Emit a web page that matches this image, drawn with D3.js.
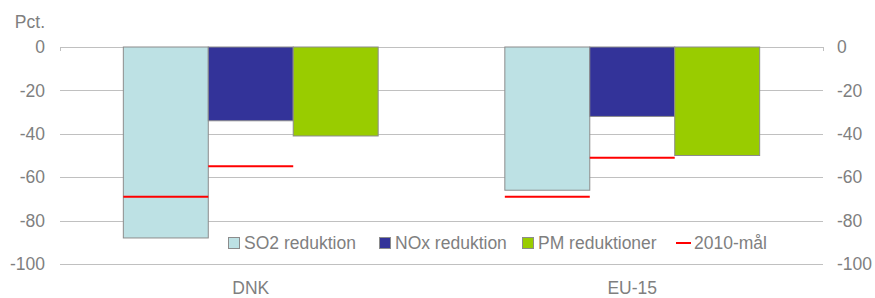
<!DOCTYPE html>
<html>
<head>
<meta charset="utf-8">
<script src="https://cdn.jsdelivr.net/npm/d3@7"></script>
<style>
  body { margin: 0; background: #fff; }
  text { font-family: "Liberation Sans", Arial, sans-serif; fill: #7f7f7f; }
</style>
</head>
<body>
<svg></svg>
<script>
// data
var categories = ['DNK', 'EU-15'];
var seriesNames = ['SO2 reduktion', 'NOx reduktion', 'PM reduktioner'];
var so2Values = [-88, -66];
var noxValues = [-34, -32];
var pmValues = [-41, -50];
var so2Target = [-69, -69];
var noxTarget = [-55, -51];
var yTicks = [0, -20, -40, -60, -80, -100];
var targetLabel = '2010-mål';

var colors = ['#bde1e4', '#333399', '#99cc00'];

var svgWidth = 875, svgHeight = 298;
var svg = d3.select('svg')
    .attr('width', svgWidth)
    .attr('height', svgHeight);

// plot area edges (note: "top" is reserved on window)
var plotLeft = 60, plotRight = 823, plotTop = 47, plotBottom = 264;

var x = d3.scaleBand()
    .domain(categories)
    .range([plotLeft, plotRight])
    .padding(0);

var groupWidth = x.bandwidth() * 0.668;
var xInner = d3.scaleBand()
    .domain(seriesNames)
    .range([0, groupWidth]);

var y = d3.scaleLinear()
    .domain([-100, 0])
    .range([plotBottom, plotTop]);

// gridlines
svg.append('g').selectAll('line')
    .data(yTicks)
    .enter().append('line')
    .attr('x1', plotLeft).attr('x2', plotRight)
    .attr('y1', d => Math.round(y(d)) + 0.5)
    .attr('y2', d => Math.round(y(d)) + 0.5)
    .attr('stroke', '#c0c0c0')
    .attr('stroke-width', 1);

// small stubs at the top corners
[plotLeft, plotRight].forEach(function(px) {
    svg.append('line')
        .attr('x1', px + 0.5).attr('x2', px + 0.5)
        .attr('y1', Math.round(y(0))).attr('y2', Math.round(y(0)) + 4)
        .attr('stroke', '#c0c0c0');
});

// left & right tick labels
svg.append('g').selectAll('text')
    .data(yTicks)
    .enter().append('text')
    .attr('x', 45)
    .attr('y', d => y(d))
    .attr('dy', '0.35em')
    .attr('text-anchor', 'end')
    .style('font-size', '17.5px')
    .text(d => d);

svg.append('g').selectAll('text')
    .data(yTicks)
    .enter().append('text')
    .attr('x', 837)
    .attr('y', d => y(d))
    .attr('dy', '0.35em')
    .attr('text-anchor', 'start')
    .style('font-size', '17.5px')
    .text(d => d);

svg.append('text')
    .attr('x', 45).attr('y', 28)
    .attr('text-anchor', 'end')
    .style('font-size', '17.5px')
    .text('Pct.');

// bars
var allValues = [so2Values, noxValues, pmValues];
var barData = [];
categories.forEach(function(c, i) {
    seriesNames.forEach(function(s, j) {
        barData.push({cat: c, series: s, value: allValues[j][i], color: colors[j]});
    });
});

var groupOffset = (x.bandwidth() - groupWidth) / 2;

svg.append('g').selectAll('rect')
    .data(barData)
    .enter().append('rect')
    .attr('x', d => x(d.cat) + groupOffset + xInner(d.series))
    .attr('y', y(0))
    .attr('width', xInner.bandwidth())
    .attr('height', d => y(d.value) - y(0))
    .attr('fill', d => d.color)
    .attr('stroke', '#8c8c8c')
    .attr('stroke-width', 1);

// 2010 targets
var targetData = [];
categories.forEach(function(c, i) {
    targetData.push({cat: c, series: seriesNames[0], value: so2Target[i]});
    targetData.push({cat: c, series: seriesNames[1], value: noxTarget[i]});
});

svg.append('g').selectAll('line')
    .data(targetData)
    .enter().append('line')
    .attr('x1', d => x(d.cat) + groupOffset + xInner(d.series))
    .attr('x2', d => x(d.cat) + groupOffset + xInner(d.series) + xInner.bandwidth())
    .attr('y1', d => y(d.value))
    .attr('y2', d => y(d.value))
    .attr('stroke', '#ff0000')
    .attr('stroke-width', 2);

// category labels
svg.append('g').selectAll('text')
    .data(categories)
    .enter().append('text')
    .attr('x', d => x(d) + x.bandwidth() / 2)
    .attr('y', 294)
    .attr('text-anchor', 'middle')
    .style('font-size', '17.5px')
    .text(d => d);

// legend
var legendY = 243;
var legendX = [228, 379, 522];
seriesNames.forEach(function(s, j) {
    svg.append('rect')
        .attr('x', legendX[j] + 0.5).attr('y', legendY - 5.5)
        .attr('width', 11).attr('height', 11)
        .attr('fill', colors[j])
        .attr('stroke', '#8c8c8c');
    svg.append('text')
        .attr('x', legendX[j] + 16).attr('y', legendY)
        .attr('dy', '0.35em')
        .style('font-size', '17.5px')
        .text(s);
});
svg.append('line')
    .attr('x1', 676).attr('x2', 691)
    .attr('y1', legendY).attr('y2', legendY)
    .attr('stroke', '#ff0000').attr('stroke-width', 2);
svg.append('text')
    .attr('x', 694).attr('y', legendY)
    .attr('dy', '0.35em')
    .style('font-size', '17.5px')
    .text(targetLabel);
</script>
</body>
</html>
